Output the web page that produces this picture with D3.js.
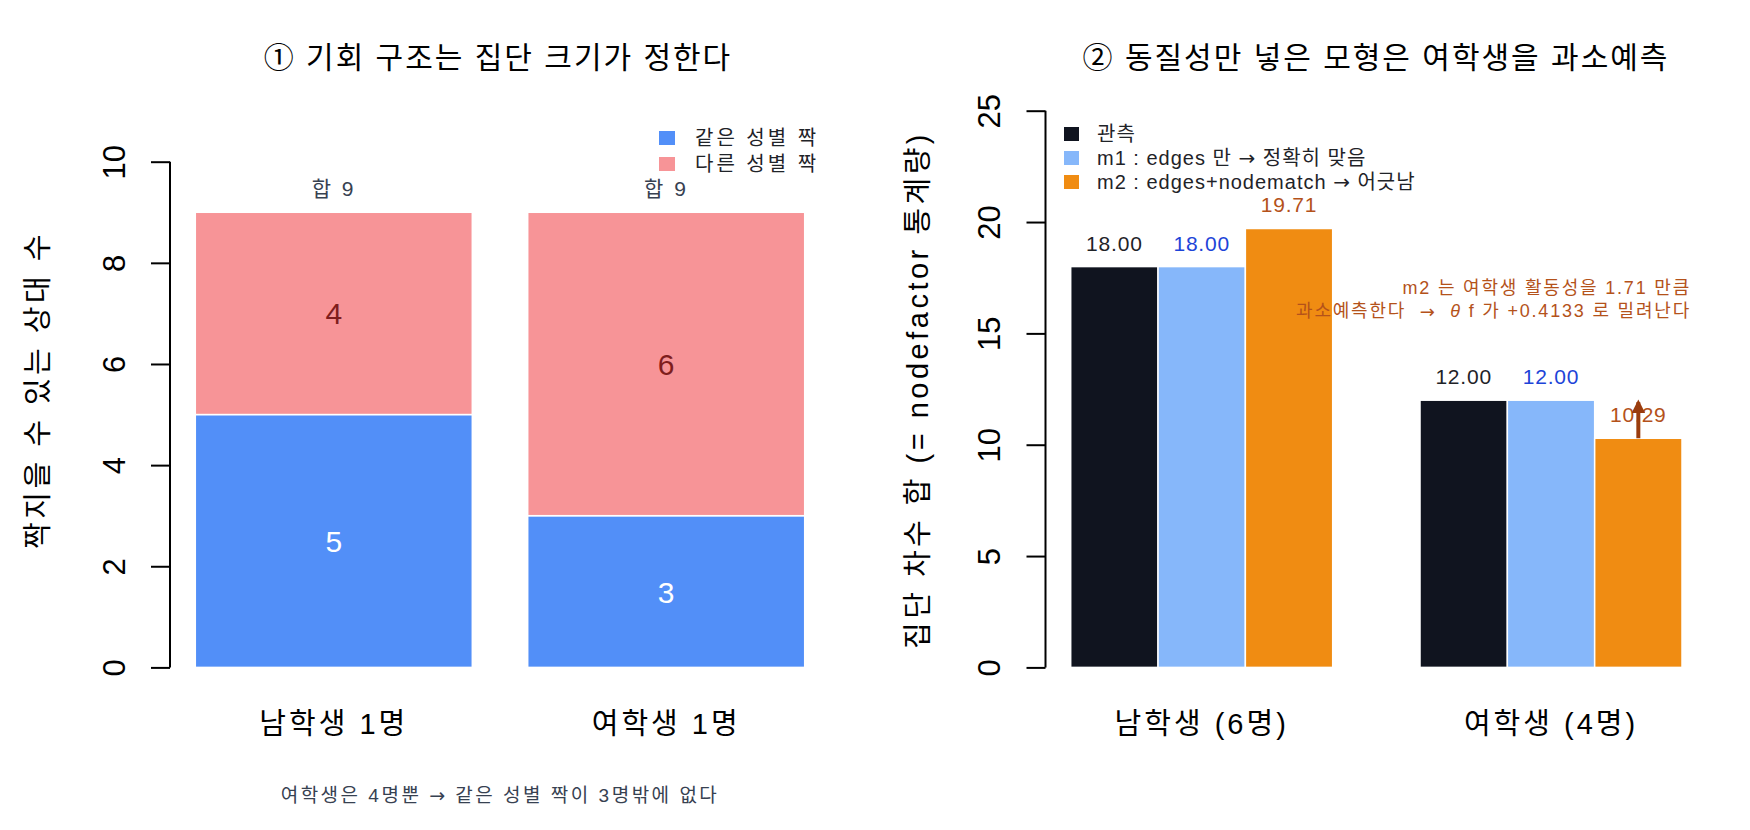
<!DOCTYPE html>
<html><head><meta charset="utf-8">
<script src="https://cdn.jsdelivr.net/npm/d3@7"></script>
<style>
html,body{margin:0;padding:0;background:#fff;}
svg{display:block;font-family:"Liberation Sans","Noto Sans CJK KR",sans-serif;}
</style></head>
<body>
<svg id="chart" width="1750" height="830"></svg>
<script>
// ---------- data: panel 1 ----------
const leftCategories = ["남학생 1명", "여학생 1명"];
const sameSex = [5, 3];
const otherSex = [4, 6];
const leftTotals = ["합 9", "합 9"];
const leftTicks = [0, 2, 4, 6, 8, 10];
const leftLegend = ["같은 성별 짝", "다른 성별 짝"];

// ---------- data: panel 2 ----------
const rightGroups = ["남학생 (6명)", "여학생 (4명)"];
const seriesNames = ["관측", "m1 : edges 만 → 정확히 맞음", "m2 : edges+nodematch → 어긋남"];
const observed = [18.00, 12.00];
const m1 = [18.00, 12.00];
const m2 = [19.71, 10.29];
const rightTicks = [0, 5, 10, 15, 20, 25];

const svg = d3.select("#chart");

// text helper: arrows drawn with DejaVu Sans (longer glyph)
function txt(sel, x, y, s, size, fill, ls, anchor) {
  const t = sel.append("text").attr("x", x).attr("y", y)
    .attr("text-anchor", anchor || "middle").attr("dominant-baseline", "central")
    .attr("font-size", size).attr("fill", fill).attr("letter-spacing", ls || 0)
    .style("white-space", "pre");
  String(s).split(/(→)/).forEach(part => {
    if (part === "") return;
    const sp = t.append("tspan").text(part);
    if (part === "→") sp.attr("font-family", '"DejaVu Sans",sans-serif');
  });
  return t;
}

// ================= LEFT PANEL =================
const yL = d3.scaleLinear().domain([0, 10]).range([667.4, 161.7]);
const xL = d3.scaleBand().domain(leftCategories).range([195.3, 804.7]).paddingInner(0.2/1.2).paddingOuter(0);
const colSame = "#528ff8", colOther = "#f79497";

const gL = svg.append("g");
leftCategories.forEach((c, i) => {
  const x0 = xL(c), w = xL.bandwidth();
  gL.append("rect").attr("x", x0).attr("width", w)
    .attr("y", yL(sameSex[i])).attr("height", yL(0) - yL(sameSex[i]))
    .attr("fill", colSame).attr("stroke", "#fff").attr("stroke-width", 1.5);
  gL.append("rect").attr("x", x0).attr("width", w)
    .attr("y", yL(sameSex[i] + otherSex[i])).attr("height", yL(sameSex[i]) - yL(sameSex[i] + otherSex[i]))
    .attr("fill", colOther).attr("stroke", "#fff").attr("stroke-width", 1.5);
  txt(gL, x0 + w/2, yL(sameSex[i]/2), sameSex[i], 30, "#fff");
  txt(gL, x0 + w/2, yL(sameSex[i] + otherSex[i]/2), otherSex[i], 30, "#7f1d1d");
  txt(gL, x0 + w/2, yL(sameSex[i] + otherSex[i]) - 24, leftTotals[i], 21, "#374151", 2.5);
});

function styleAxis(g, y, top) {
  g.select(".domain").attr("stroke", "#000").attr("stroke-width", 2).attr("d", `M0,${y(0)}V${y(top)}`);
  g.selectAll(".tick line").attr("stroke", "#000").attr("stroke-width", 2);
  g.selectAll(".tick text")
    .attr("x", null).attr("dy", null)
    .attr("transform", "translate(-56,0) rotate(-90)")
    .attr("text-anchor", "middle").attr("dominant-baseline", "central")
    .attr("font-size", 31).attr("font-family", '"Liberation Sans",sans-serif').attr("fill", "#000");
}

const axL = d3.axisLeft(yL).tickValues(leftTicks).tickSize(19).tickPadding(0).tickFormat(d3.format("d"));
styleAxis(svg.append("g").attr("transform", "translate(170,0)").call(axL), yL, 10);

leftCategories.forEach(c => txt(svg, xL(c) + xL.bandwidth()/2, 724, c, 29, "#000", 3));

svg.append("text").attr("transform", "translate(38,390) rotate(-90)")
  .attr("text-anchor", "middle").attr("dominant-baseline", "central")
  .attr("font-size", 29).attr("letter-spacing", 3.5).attr("fill", "#000").text("짝지을 수 있는 상대 수");

txt(svg, 498, 57, "① 기회 구조는 집단 크기가 정한다", 30, "#000", 2);

[colSame, colOther].forEach((col, i) => {
  const yy = 138 + i * 26;
  svg.append("rect").attr("x", 659).attr("y", yy - 7).attr("width", 16).attr("height", 14).attr("fill", col);
  txt(svg, 695, yy, leftLegend[i], 20, "#1f2328", 3, "start");
});

txt(svg, 500, 795, "여학생은 4명뿐 → 같은 성별 짝이 3명밖에 없다", 19, "#374151", 2.5);

// ================= RIGHT PANEL =================
const yR = d3.scaleLinear().domain([0, 25]).range([667.4, 110.7]);
const xR = d3.scaleBand().domain(rightGroups).range([1070.7, 1682]).paddingInner(0.25).paddingOuter(0);
const series = [observed, m1, m2];
const xS = d3.scaleBand().domain(d3.range(series.length)).range([0, xR.bandwidth()]).padding(0);
const barCols = ["#10141f", "#86b7fa", "#f08c12"];
const lblCols = ["#1f2328", "#1d44d8", "#b4521a"];

const gR = svg.append("g");
rightGroups.forEach((g, gi) => {
  series.forEach((s, si) => {
    const x0 = xR(g) + xS(si), w = xS.bandwidth();
    gR.append("rect").attr("x", x0).attr("width", w)
      .attr("y", yR(s[gi])).attr("height", yR(0) - yR(s[gi]))
      .attr("fill", barCols[si]).attr("stroke", "#fff").attr("stroke-width", 1.5);
    txt(gR, x0 + w/2, yR(s[gi]) - 24, d3.format(".2f")(s[gi]), 21, lblCols[si], 0.8);
  });
});

const defs = svg.append("defs");
defs.append("marker").attr("id", "ah").attr("viewBox", "0 0 10 10").attr("refX", 8).attr("refY", 5)
  .attr("markerWidth", 3.4).attr("markerHeight", 3.4).attr("orient", "auto")
  .append("path").attr("d", "M0,0L10,5L0,10z").attr("fill", "#9a3c0e");
const ax2 = xR(rightGroups[1]) + xS(2) + xS.bandwidth()/2;
svg.append("line").attr("x1", ax2).attr("x2", ax2)
  .attr("y1", yR(m2[1])).attr("y2", yR(observed[1]) + 2)
  .attr("stroke", "#9a3c0e").attr("stroke-width", 4).attr("marker-end", "url(#ah)");

const axR = d3.axisLeft(yR).tickValues(rightTicks).tickSize(19).tickPadding(0).tickFormat(d3.format("d"));
styleAxis(svg.append("g").attr("transform", "translate(1045.5,0)").call(axR), yR, 25);

rightGroups.forEach(g => txt(svg, xR(g) + xR.bandwidth()/2, 724, g, 29, "#000", 3));

svg.append("text").attr("transform", "translate(918,390) rotate(-90)")
  .attr("text-anchor", "middle").attr("dominant-baseline", "central")
  .attr("font-size", 29).attr("letter-spacing", 3.5).attr("fill", "#000").text("집단 차수 합 (= nodefactor 통계량)");

txt(svg, 1376, 57, "② 동질성만 넣은 모형은 여학생을 과소예측", 30, "#000", 2);

barCols.forEach((col, i) => {
  const yy = 134 + i * 24;
  svg.append("rect").attr("x", 1064).attr("y", yy - 7).attr("width", 15).attr("height", 14).attr("fill", col);
  txt(svg, 1097, yy, seriesNames[i], 20, "#1f2328", 1, "start");
});

// annotation
txt(svg, 1691, 288, "m2 는 여학생 활동성을 1.71 만큼", 18, "#b4521a", 1.8, "end");
const line2 = svg.append("text").attr("x", 1691).attr("y", 311)
  .attr("text-anchor", "end").attr("dominant-baseline", "central")
  .attr("font-size", 18).attr("fill", "#b4521a").attr("letter-spacing", 1.8).style("white-space", "pre");
line2.append("tspan").text("과소예측한다  ");
line2.append("tspan").attr("font-family", '"DejaVu Sans",sans-serif').text("→");
line2.append("tspan").text("  ");
line2.append("tspan").attr("font-style", "italic").text("θ");
line2.append("tspan").text(" f 가 +0.4133 로 밀려난다");
</script>
</body></html>
